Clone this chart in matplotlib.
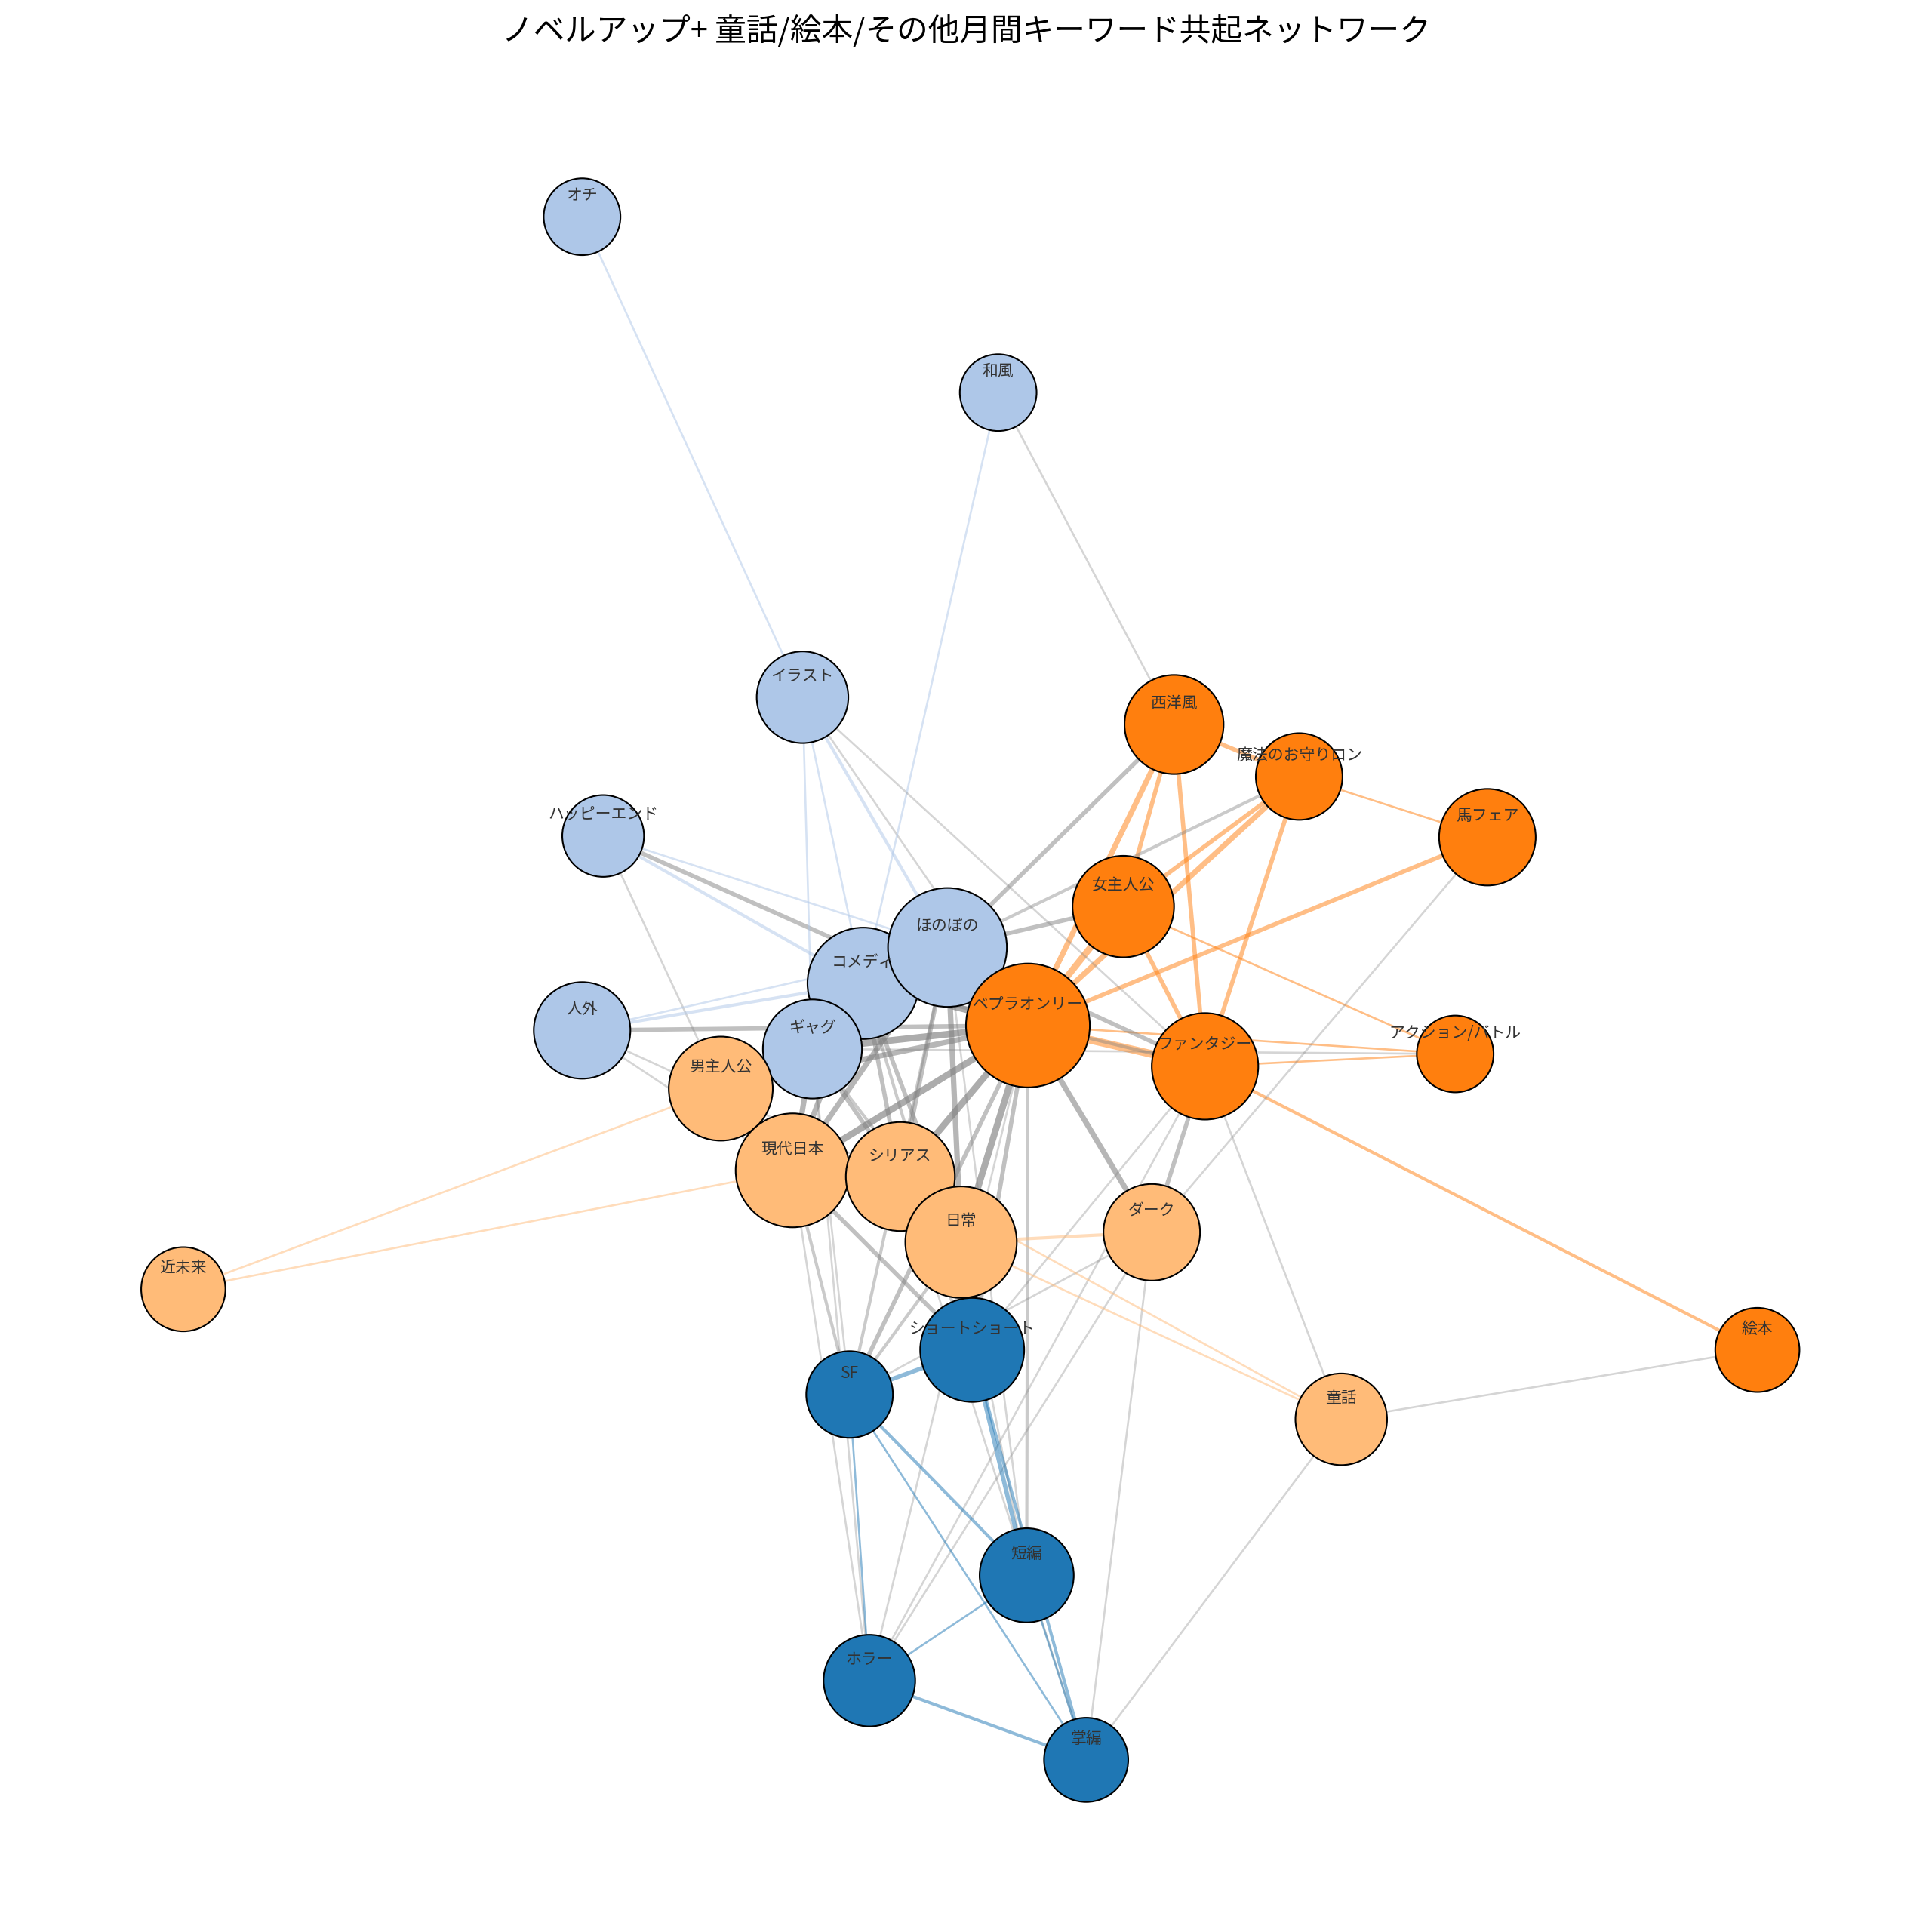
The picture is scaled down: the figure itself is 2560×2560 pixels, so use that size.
import matplotlib
matplotlib.use("Agg")
import matplotlib.pyplot as plt
from matplotlib.patches import Circle

plt.rcParams["font.family"] = ["Noto Sans CJK JP", "DejaVu Sans"]

TITLE = "ノベルアップ+ 童話/絵本/その他月間キーワード共起ネットワーク"

# node name, x, y (layout units, y down), size, community
nodes = [
    ("オチ", 470, 175, 31, 0), ("和風", 806, 317, 31, 0), ("イラスト", 648, 563, 37, 0),
    ("ハッピーエンド", 487, 675, 33, 0), ("人外", 470, 832, 39, 0), ("コメディ", 697, 794, 45, 0),
    ("ほのぼの", 765, 765, 48, 0), ("ギャグ", 656, 847, 40, 0),
    ("西洋風", 948, 585, 40, 1), ("魔法のお守りロン", 1049, 627, 35, 1), ("馬フェア", 1201, 676, 39, 1),
    ("女主人公", 907, 732, 41, 1), ("ベプラオンリー", 830, 828, 50, 1), ("ファンタジー", 973, 861, 43, 1),
    ("アクション/バトル", 1175, 851, 31, 1), ("絵本", 1419, 1090, 34, 1),
    ("男主人公", 582, 879, 42, 2), ("現代日本", 640, 945, 46, 2), ("シリアス", 727, 950, 44, 2),
    ("日常", 776, 1003, 45, 2), ("ダーク", 930, 995, 39, 2), ("近未来", 148, 1041, 34, 2),
    ("童話", 1083, 1146, 37, 2),
    ("ショートショート", 785, 1090, 42, 3), ("SF", 686, 1126, 35, 3), ("短編", 829, 1272, 38, 3),
    ("ホラー", 702, 1357, 37, 3), ("掌編", 877, 1421, 34, 3),
]

edges = [
    ("ベプラオンリー", "ほのぼの", 6), ("ベプラオンリー", "コメディ", 5), ("ベプラオンリー", "ギャグ", 5),
    ("ベプラオンリー", "現代日本", 5), ("ベプラオンリー", "シリアス", 5), ("ベプラオンリー", "日常", 5),
    ("ベプラオンリー", "ダーク", 4), ("ベプラオンリー", "男主人公", 4), ("ベプラオンリー", "ショートショート", 3),
    ("ベプラオンリー", "SF", 3), ("ベプラオンリー", "短編", 2), ("ベプラオンリー", "ハッピーエンド", 3),
    ("ベプラオンリー", "人外", 3), ("ベプラオンリー", "イラスト", 1), ("ベプラオンリー", "ホラー", 1),
    ("ベプラオンリー", "女主人公", 5), ("ベプラオンリー", "西洋風", 4), ("ベプラオンリー", "魔法のお守りロン", 4),
    ("ベプラオンリー", "ファンタジー", 6), ("ベプラオンリー", "馬フェア", 3), ("ベプラオンリー", "アクション/バトル", 1),
    ("女主人公", "西洋風", 3), ("女主人公", "魔法のお守りロン", 3), ("女主人公", "ファンタジー", 3),
    ("西洋風", "ファンタジー", 3), ("西洋風", "魔法のお守りロン", 3), ("魔法のお守りロン", "ファンタジー", 3),
    ("ファンタジー", "絵本", 2), ("魔法のお守りロン", "馬フェア", 1), ("女主人公", "アクション/バトル", 1),
    ("ファンタジー", "アクション/バトル", 1),
    ("ほのぼの", "女主人公", 3), ("ほのぼの", "西洋風", 3), ("ほのぼの", "魔法のお守りロン", 2),
    ("ほのぼの", "ファンタジー", 3), ("ほのぼの", "現代日本", 4), ("ほのぼの", "日常", 4),
    ("ほのぼの", "シリアス", 3), ("ほのぼの", "男主人公", 2), ("ほのぼの", "SF", 2), ("ほのぼの", "短編", 1),
    ("コメディ", "現代日本", 4), ("コメディ", "シリアス", 3), ("コメディ", "日常", 3), ("コメディ", "男主人公", 2),
    ("コメディ", "ファンタジー", 2), ("コメディ", "ショートショート", 2),
    ("ギャグ", "現代日本", 4), ("ギャグ", "シリアス", 3), ("ギャグ", "日常", 2), ("ギャグ", "アクション/バトル", 1),
    ("ギャグ", "SF", 1), ("ギャグ", "ホラー", 1),
    ("現代日本", "ショートショート", 3), ("現代日本", "SF", 2), ("現代日本", "ホラー", 1),
    ("シリアス", "ショートショート", 2), ("シリアス", "掌編", 1), ("日常", "SF", 2), ("日常", "短編", 1),
    ("ダーク", "ホラー", 1), ("ダーク", "SF", 1), ("ダーク", "掌編", 1), ("ファンタジー", "ダーク", 3),
    ("ファンタジー", "童話", 1), ("ファンタジー", "ショートショート", 1), ("ファンタジー", "ホラー", 1),
    ("和風", "西洋風", 1), ("童話", "絵本", 1), ("童話", "掌編", 1), ("馬フェア", "ダーク", 1),
    ("ハッピーエンド", "コメディ", 2), ("ハッピーエンド", "ほのぼの", 1), ("ハッピーエンド", "男主人公", 1),
    ("人外", "コメディ", 2), ("人外", "ほのぼの", 1), ("人外", "現代日本", 1), ("人外", "シリアス", 1),
    ("イラスト", "ほのぼの", 2), ("イラスト", "コメディ", 1), ("イラスト", "ギャグ", 1), ("オチ", "イラスト", 1),
    ("和風", "コメディ", 1), ("イラスト", "ファンタジー", 1),
    ("近未来", "男主人公", 1), ("近未来", "現代日本", 1), ("日常", "ダーク", 2), ("日常", "童話", 1),
    ("シリアス", "童話", 1), ("男主人公", "現代日本", 2), ("現代日本", "シリアス", 2), ("シリアス", "日常", 2),
    ("ショートショート", "SF", 3), ("ショートショート", "短編", 3), ("ショートショート", "掌編", 2),
    ("SF", "短編", 2), ("ホラー", "掌編", 2), ("短編", "ホラー", 1), ("SF", "ホラー", 1), ("短編", "掌編", 1),
    ("SF", "掌編", 1),
]

COLORS = ["#aec7e8", "#ff7f0e", "#ffbb78", "#1f77b4"]

S = 2560 / 1560
pos = {n: (x * S, y * S) for n, x, y, r, c in nodes}
comm = {n: c for n, x, y, r, c in nodes}

fig = plt.figure(figsize=(25.6, 25.6), dpi=100)
ax = fig.add_axes([0, 0, 1, 1])
ax.set_xlim(0, 2560)
ax.set_ylim(2560, 0)
ax.axis("off")

for a, b, w in edges:
    (x1, y1), (x2, y2) = pos[a], pos[b]
    if comm[a] == comm[b]:
        col, al = COLORS[comm[a]], 0.5
    else:
        col, al = "gray", 0.25 + 0.08 * w
    ax.plot([x1, x2], [y1, y2], color=col, lw=0.8 + 1.1 * w, alpha=min(al, 0.75), zorder=1)

for n, x, y, r, c in nodes:
    ax.add_patch(Circle((x * S, y * S), r * S, facecolor=COLORS[c], edgecolor="black",
                        lw=1.5, zorder=2))
    ax.text(x * S, y * S - 28, n, ha="center", va="center", fontsize=15, color="#333333", zorder=3)

fig.text(0.5, 1 - 25 / 1560, TITLE, ha="center", va="center", fontsize=30)
fig.savefig("out.png", dpi=100)
